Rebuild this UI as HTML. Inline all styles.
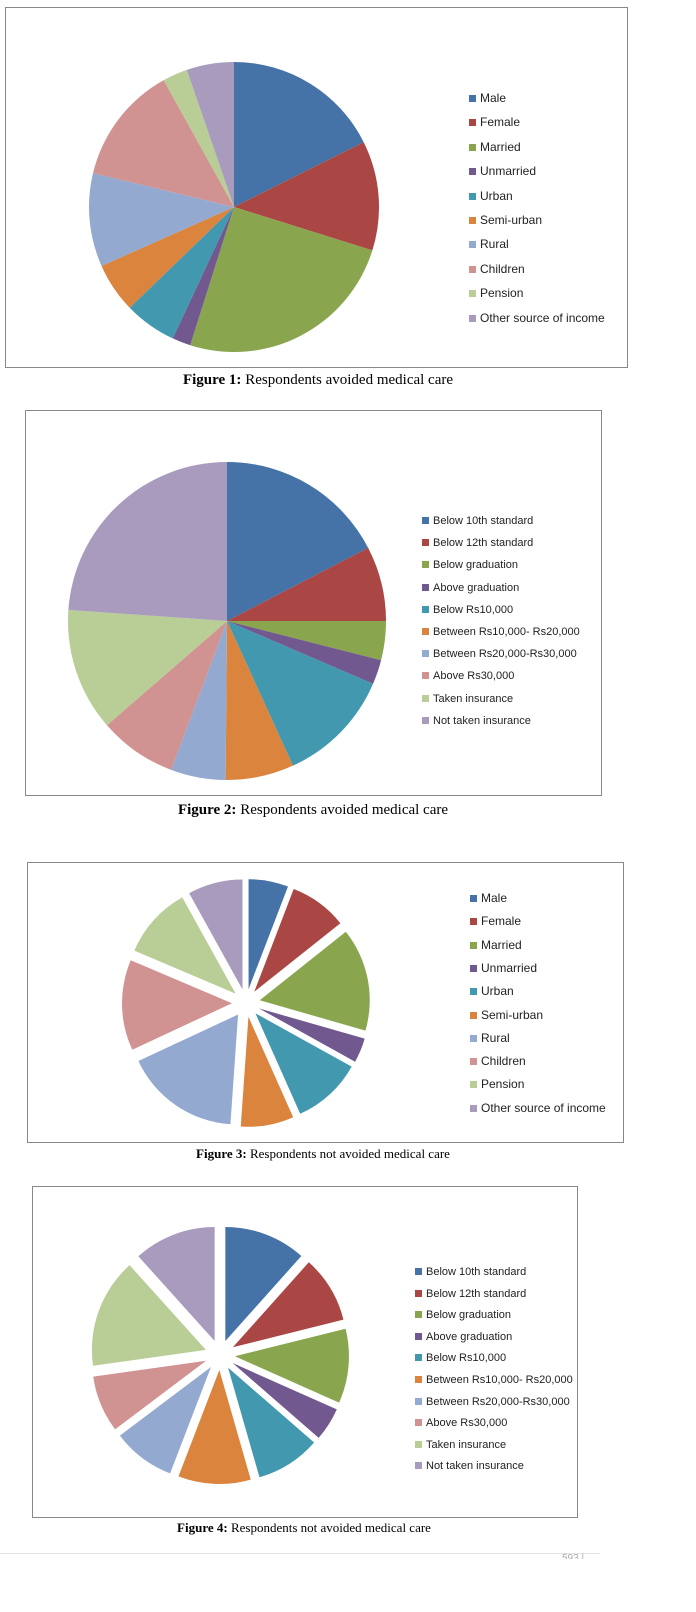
<!DOCTYPE html>
<html><head><meta charset="utf-8">
<style>
body{margin:0;background:#fff;width:696px;height:1612px;position:relative;overflow:hidden;font-family:"Liberation Sans",sans-serif}
.box{position:absolute;border:1px solid #888;box-sizing:border-box}
svg{position:absolute;left:0;top:0}
.leg{position:absolute;font-size:12px;color:#222;line-height:14px}
.leg div{position:absolute;white-space:nowrap}
.leg span{display:inline-block;width:7px;height:7px;margin-right:4px;vertical-align:0px}
.cap{position:absolute;font-family:"Liberation Serif",serif;color:#000;white-space:nowrap;transform:translateX(-50%)}
</style></head><body>
<div class="box" style="left:5px;top:7px;width:623px;height:361px"></div>
<div class="box" style="left:25px;top:410px;width:577px;height:386px"></div>
<div class="box" style="left:27px;top:862px;width:597px;height:281px"></div>
<div class="box" style="left:32px;top:1186px;width:546px;height:332px"></div>
<svg id="s" width="696" height="1612"></svg>

<div class="leg" id="l1" style="left:469px;top:91px"></div>
<div class="leg" id="l2" style="left:422px;top:514px;font-size:11px"></div>
<div class="leg" id="l3" style="left:470px;top:891px"></div>
<div class="leg" id="l4" style="left:415px;top:1265px;font-size:11px"></div>

<div class="cap" style="left:318px;top:372px;font-size:15px"><b>Figure 1:</b> Respondents avoided medical care</div>
<div class="cap" style="left:313px;top:802px;font-size:15px"><b>Figure 2:</b> Respondents avoided medical care</div>
<div class="cap" style="left:323px;top:1146px;font-size:13px"><b>Figure 3:</b> Respondents not avoided medical care</div>
<div class="cap" style="left:304px;top:1520px;font-size:13px"><b>Figure 4:</b> Respondents not avoided medical care</div>
<div style="position:absolute;left:0;top:1553px;width:600px;height:1px;background:#e4e4e4"></div>
<div style="position:absolute;left:562px;top:1553px;font-size:10px;color:#aaa;height:6px;overflow:hidden">593 |</div>

<script>
var C=["#4572A7","#AA4643","#89A54E","#71588F","#4198AF","#DB843D","#93A9CF","#D19392","#B9CD96","#A99BBD"];
var s=document.getElementById('s'),h='';
function pie(cx,cy,r,e,ang){var a0=0;for(var i=0;i<ang.length;i++){var a1=ang[i];var m=(a0+a1)/2*Math.PI/180;var ox=cx+e*Math.sin(m),oy=cy-e*Math.cos(m);
var p=function(a){a=a*Math.PI/180;return (ox+r*Math.sin(a)).toFixed(2)+' '+(oy-r*Math.cos(a)).toFixed(2)};
h+='<path d="M'+ox.toFixed(2)+' '+oy.toFixed(2)+' L'+p(a0)+' A'+r+' '+r+' 0 '+((a1-a0)>180?1:0)+' 1 '+p(a1)+' Z" fill="'+C[i]+'"/>';a0=a1;}}
pie(234,207,145,0,[63.4,107.4,197.6,205,226,246,283.5,331,341,360]);
pie(227,621,159,0,[62.6,90,104.3,113.3,155.5,180.5,200.6,229,274,360]);
pie(246,1003,110,14,[21,51.5,106,119,156,184,245,293,331,360]);
pie(220,1355,114,15,[41.8,76,114,131,164,201,233,262,318,360]);
s.innerHTML=h;
function leg(id,names,step){var d=document.getElementById(id),t='';for(var i=0;i<names.length;i++)t+='<div style="top:'+(i*step)+'px"><span style="background:'+C[i]+'"></span>'+names[i]+'</div>';d.innerHTML=t;}
var A=["Male","Female","Married","Unmarried","Urban","Semi-urban","Rural","Children","Pension","Other source of income"];
var B=["Below 10th standard","Below 12th standard","Below graduation","Above graduation","Below Rs10,000","Between Rs10,000- Rs20,000","Between Rs20,000-Rs30,000","Above Rs30,000","Taken insurance","Not taken insurance"];
leg('l1',A,24.4);leg('l2',B,22.2);leg('l3',A,23.3);leg('l4',B,21.6);
</script>
</body></html>
